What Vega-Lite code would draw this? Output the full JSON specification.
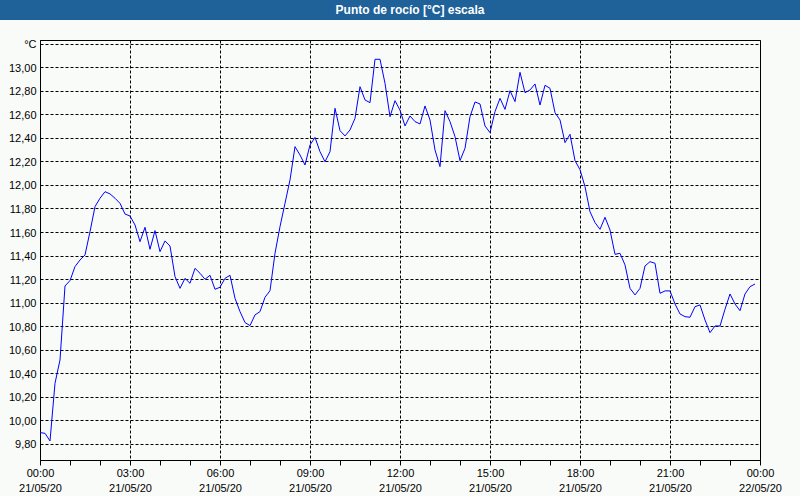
{
  "$schema": "https://vega.github.io/schema/vega-lite/v6.json",
  "background": "#f9fbf9",
  "padding": {"left": 0, "right": 0, "top": 0, "bottom": 2},
  "spacing": 20,
  "center": true,
  "bounds": "flush",
  "config": {
    "font": "Liberation Sans",
    "locale": {"number": {"decimal": ",", "thousands": ".", "grouping": [3], "currency": ["", " €"]}},
    "style": {"guide-label": {"lineBreak": "\n"}}
  },
  "vconcat": [
    {
      "width": 800,
      "height": 20,
      "view": {"fill": "#1f6199", "stroke": null},
      "data": {"values": [{"t": "Punto de rocío [°C] escala"}]},
      "mark": {"type": "text", "color": "white", "fontWeight": "bold", "fontSize": 12, "dx": 10, "font": "Liberation Sans"},
      "encoding": {"text": {"field": "t"}}
    },
    {
      "width": 720,
      "height": 420,
      "view": {"stroke": "black", "strokeWidth": 1, "fill": "#f9fbf9"},
      "data": {"values": [
        {"t": "2020-05-21 00:00", "v": 9.894},
        {"t": "2020-05-21 00:10", "v": 9.888},
        {"t": "2020-05-21 00:20", "v": 9.823},
        {"t": "2020-05-21 00:30", "v": 10.314},
        {"t": "2020-05-21 00:40", "v": 10.512},
        {"t": "2020-05-21 00:50", "v": 11.141},
        {"t": "2020-05-21 01:00", "v": 11.187},
        {"t": "2020-05-21 01:10", "v": 11.306},
        {"t": "2020-05-21 01:20", "v": 11.362},
        {"t": "2020-05-21 01:30", "v": 11.405},
        {"t": "2020-05-21 01:40", "v": 11.603},
        {"t": "2020-05-21 01:50", "v": 11.816},
        {"t": "2020-05-21 02:00", "v": 11.887},
        {"t": "2020-05-21 02:10", "v": 11.943},
        {"t": "2020-05-21 02:20", "v": 11.924},
        {"t": "2020-05-21 02:30", "v": 11.887},
        {"t": "2020-05-21 02:40", "v": 11.844},
        {"t": "2020-05-21 02:50", "v": 11.753},
        {"t": "2020-05-21 03:00", "v": 11.736},
        {"t": "2020-05-21 03:10", "v": 11.660},
        {"t": "2020-05-21 03:20", "v": 11.518},
        {"t": "2020-05-21 03:30", "v": 11.640},
        {"t": "2020-05-21 03:40", "v": 11.453},
        {"t": "2020-05-21 03:50", "v": 11.612},
        {"t": "2020-05-21 04:00", "v": 11.433},
        {"t": "2020-05-21 04:10", "v": 11.524},
        {"t": "2020-05-21 04:20", "v": 11.481},
        {"t": "2020-05-21 04:30", "v": 11.221},
        {"t": "2020-05-21 04:40", "v": 11.121},
        {"t": "2020-05-21 04:50", "v": 11.206},
        {"t": "2020-05-21 05:00", "v": 11.164},
        {"t": "2020-05-21 05:10", "v": 11.291},
        {"t": "2020-05-21 05:20", "v": 11.249},
        {"t": "2020-05-21 05:30", "v": 11.198},
        {"t": "2020-05-21 05:40", "v": 11.232},
        {"t": "2020-05-21 05:50", "v": 11.113},
        {"t": "2020-05-21 06:00", "v": 11.130},
        {"t": "2020-05-21 06:10", "v": 11.206},
        {"t": "2020-05-21 06:20", "v": 11.232},
        {"t": "2020-05-21 06:30", "v": 11.036},
        {"t": "2020-05-21 06:40", "v": 10.923},
        {"t": "2020-05-21 06:50", "v": 10.830},
        {"t": "2020-05-21 07:00", "v": 10.804},
        {"t": "2020-05-21 07:10", "v": 10.895},
        {"t": "2020-05-21 07:20", "v": 10.923},
        {"t": "2020-05-21 07:30", "v": 11.045},
        {"t": "2020-05-21 07:40", "v": 11.101},
        {"t": "2020-05-21 07:50", "v": 11.419},
        {"t": "2020-05-21 08:00", "v": 11.646},
        {"t": "2020-05-21 08:10", "v": 11.844},
        {"t": "2020-05-21 08:20", "v": 12.043},
        {"t": "2020-05-21 08:30", "v": 12.326},
        {"t": "2020-05-21 08:40", "v": 12.255},
        {"t": "2020-05-21 08:50", "v": 12.170},
        {"t": "2020-05-21 09:00", "v": 12.340},
        {"t": "2020-05-21 09:10", "v": 12.405},
        {"t": "2020-05-21 09:20", "v": 12.283},
        {"t": "2020-05-21 09:30", "v": 12.198},
        {"t": "2020-05-21 09:40", "v": 12.283},
        {"t": "2020-05-21 09:50", "v": 12.652},
        {"t": "2020-05-21 10:00", "v": 12.462},
        {"t": "2020-05-21 10:10", "v": 12.417},
        {"t": "2020-05-21 10:20", "v": 12.468},
        {"t": "2020-05-21 10:30", "v": 12.567},
        {"t": "2020-05-21 10:40", "v": 12.836},
        {"t": "2020-05-21 10:50", "v": 12.723},
        {"t": "2020-05-21 11:00", "v": 12.700},
        {"t": "2020-05-21 11:10", "v": 13.069},
        {"t": "2020-05-21 11:20", "v": 13.069},
        {"t": "2020-05-21 11:30", "v": 12.865},
        {"t": "2020-05-21 11:40", "v": 12.581},
        {"t": "2020-05-21 11:50", "v": 12.717},
        {"t": "2020-05-21 12:00", "v": 12.636},
        {"t": "2020-05-21 12:10", "v": 12.502},
        {"t": "2020-05-21 12:20", "v": 12.587},
        {"t": "2020-05-21 12:30", "v": 12.539},
        {"t": "2020-05-21 12:40", "v": 12.519},
        {"t": "2020-05-21 12:50", "v": 12.672},
        {"t": "2020-05-21 13:00", "v": 12.553},
        {"t": "2020-05-21 13:10", "v": 12.298},
        {"t": "2020-05-21 13:20", "v": 12.156},
        {"t": "2020-05-21 13:30", "v": 12.632},
        {"t": "2020-05-21 13:40", "v": 12.539},
        {"t": "2020-05-21 13:50", "v": 12.411},
        {"t": "2020-05-21 14:00", "v": 12.207},
        {"t": "2020-05-21 14:10", "v": 12.312},
        {"t": "2020-05-21 14:20", "v": 12.581},
        {"t": "2020-05-21 14:30", "v": 12.706},
        {"t": "2020-05-21 14:40", "v": 12.689},
        {"t": "2020-05-21 14:50", "v": 12.502},
        {"t": "2020-05-21 15:00", "v": 12.445},
        {"t": "2020-05-21 15:10", "v": 12.624},
        {"t": "2020-05-21 15:20", "v": 12.737},
        {"t": "2020-05-21 15:30", "v": 12.643},
        {"t": "2020-05-21 15:40", "v": 12.802},
        {"t": "2020-05-21 15:50", "v": 12.709},
        {"t": "2020-05-21 16:00", "v": 12.958},
        {"t": "2020-05-21 16:10", "v": 12.785},
        {"t": "2020-05-21 16:20", "v": 12.808},
        {"t": "2020-05-21 16:30", "v": 12.859},
        {"t": "2020-05-21 16:40", "v": 12.680},
        {"t": "2020-05-21 16:50", "v": 12.848},
        {"t": "2020-05-21 17:00", "v": 12.822},
        {"t": "2020-05-21 17:10", "v": 12.615},
        {"t": "2020-05-21 17:20", "v": 12.553},
        {"t": "2020-05-21 17:30", "v": 12.360},
        {"t": "2020-05-21 17:40", "v": 12.431},
        {"t": "2020-05-21 17:50", "v": 12.207},
        {"t": "2020-05-21 18:00", "v": 12.130},
        {"t": "2020-05-21 18:10", "v": 11.986},
        {"t": "2020-05-21 18:20", "v": 11.773},
        {"t": "2020-05-21 18:30", "v": 11.680},
        {"t": "2020-05-21 18:40", "v": 11.623},
        {"t": "2020-05-21 18:50", "v": 11.725},
        {"t": "2020-05-21 19:00", "v": 11.617},
        {"t": "2020-05-21 19:10", "v": 11.410},
        {"t": "2020-05-21 19:20", "v": 11.419},
        {"t": "2020-05-21 19:30", "v": 11.320},
        {"t": "2020-05-21 19:40", "v": 11.121},
        {"t": "2020-05-21 19:50", "v": 11.065},
        {"t": "2020-05-21 20:00", "v": 11.121},
        {"t": "2020-05-21 20:10", "v": 11.311},
        {"t": "2020-05-21 20:20", "v": 11.348},
        {"t": "2020-05-21 20:30", "v": 11.334},
        {"t": "2020-05-21 20:40", "v": 11.079},
        {"t": "2020-05-21 20:50", "v": 11.099},
        {"t": "2020-05-21 21:00", "v": 11.099},
        {"t": "2020-05-21 21:10", "v": 10.988},
        {"t": "2020-05-21 21:20", "v": 10.903},
        {"t": "2020-05-21 21:30", "v": 10.880},
        {"t": "2020-05-21 21:40", "v": 10.875},
        {"t": "2020-05-21 21:50", "v": 10.965},
        {"t": "2020-05-21 22:00", "v": 10.980},
        {"t": "2020-05-21 22:10", "v": 10.852},
        {"t": "2020-05-21 22:20", "v": 10.744},
        {"t": "2020-05-21 22:30", "v": 10.801},
        {"t": "2020-05-21 22:40", "v": 10.801},
        {"t": "2020-05-21 22:50", "v": 10.943},
        {"t": "2020-05-21 23:00", "v": 11.073},
        {"t": "2020-05-21 23:10", "v": 10.988},
        {"t": "2020-05-21 23:20", "v": 10.931},
        {"t": "2020-05-21 23:30", "v": 11.073},
        {"t": "2020-05-21 23:40", "v": 11.135},
        {"t": "2020-05-21 23:50", "v": 11.158}
      ]},
      "resolve": {"axis": {"x": "independent"}},
      "encoding": {
        "x": {
          "field": "t",
          "type": "temporal",
          "scale": {
            "domain": [
              {"year": 2020, "month": 5, "date": 21, "hours": 0},
              {"year": 2020, "month": 5, "date": 22, "hours": 0}
            ],
            "nice": false
          }
        },
        "y": {
          "field": "v",
          "type": "quantitative",
          "scale": {"domain": [9.661, 13.233], "nice": false, "zero": false},
          "axis": {
            "title": null,
            "values": [9.8, 10.0, 10.2, 10.4, 10.6, 10.8, 11.0, 11.2, 11.4, 11.6, 11.8, 12.0, 12.2, 12.4, 12.6, 12.8, 13.0, 13.2],
            "format": ".2f",
            "labelExpr": "datum.value > 13.1 ? '°C' : datum.label",
            "labelFont": "Liberation Sans",
            "labelFontSize": 11,
            "labelColor": "black",
            "labelPadding": 4,
            "labelOffset": 1,
            "ticks": false,
            "domainColor": "black",
            "grid": true,
            "gridColor": "black",
            "gridDash": [3, 2],
            "gridOpacity": 1
          }
        }
      },
      "layer": [
        {
          "mark": {"type": "line", "color": "#0000ff", "strokeWidth": 1},
          "encoding": {
            "x": {
              "field": "t",
              "type": "temporal",
              "axis": {
                "orient": "bottom",
                "title": null,
                "values": [
                  {"year": 2020, "month": 5, "date": 21, "hours": 1},
                  {"year": 2020, "month": 5, "date": 21, "hours": 2},
                  {"year": 2020, "month": 5, "date": 21, "hours": 4},
                  {"year": 2020, "month": 5, "date": 21, "hours": 5},
                  {"year": 2020, "month": 5, "date": 21, "hours": 7},
                  {"year": 2020, "month": 5, "date": 21, "hours": 8},
                  {"year": 2020, "month": 5, "date": 21, "hours": 10},
                  {"year": 2020, "month": 5, "date": 21, "hours": 11},
                  {"year": 2020, "month": 5, "date": 21, "hours": 13},
                  {"year": 2020, "month": 5, "date": 21, "hours": 14},
                  {"year": 2020, "month": 5, "date": 21, "hours": 16},
                  {"year": 2020, "month": 5, "date": 21, "hours": 17},
                  {"year": 2020, "month": 5, "date": 21, "hours": 19},
                  {"year": 2020, "month": 5, "date": 21, "hours": 20},
                  {"year": 2020, "month": 5, "date": 21, "hours": 22},
                  {"year": 2020, "month": 5, "date": 21, "hours": 23}
                ],
                "labels": false,
                "grid": false,
                "domain": false,
                "tickSize": 5,
                "tickColor": "black"
              }
            }
          }
        },
        {
          "mark": {"type": "line", "color": "#0000ff", "strokeWidth": 1, "opacity": 0},
          "encoding": {
            "x": {
              "field": "t",
              "type": "temporal",
              "axis": {
                "orient": "bottom",
                "title": null,
                "values": [
                  {"year": 2020, "month": 5, "date": 21, "hours": 0},
                  {"year": 2020, "month": 5, "date": 21, "hours": 3},
                  {"year": 2020, "month": 5, "date": 21, "hours": 6},
                  {"year": 2020, "month": 5, "date": 21, "hours": 9},
                  {"year": 2020, "month": 5, "date": 21, "hours": 12},
                  {"year": 2020, "month": 5, "date": 21, "hours": 15},
                  {"year": 2020, "month": 5, "date": 21, "hours": 18},
                  {"year": 2020, "month": 5, "date": 21, "hours": 21},
                  {"year": 2020, "month": 5, "date": 22, "hours": 0}
                ],
                "format": "%H:%M\n%d/%m/%y",
                "labelFont": "Liberation Sans",
                "labelFontSize": 11,
                "labelColor": "black",
                "labelLineHeight": 15,
                "labelPadding": 2,
                "labelFlush": false,
                "labelOverlap": false,
                "tickSize": 5,
                "tickColor": "black",
                "domainColor": "black",
                "grid": true,
                "gridColor": "black",
                "gridDash": [3, 2]
              }
            }
          }
        }
      ]
    }
  ]
}
